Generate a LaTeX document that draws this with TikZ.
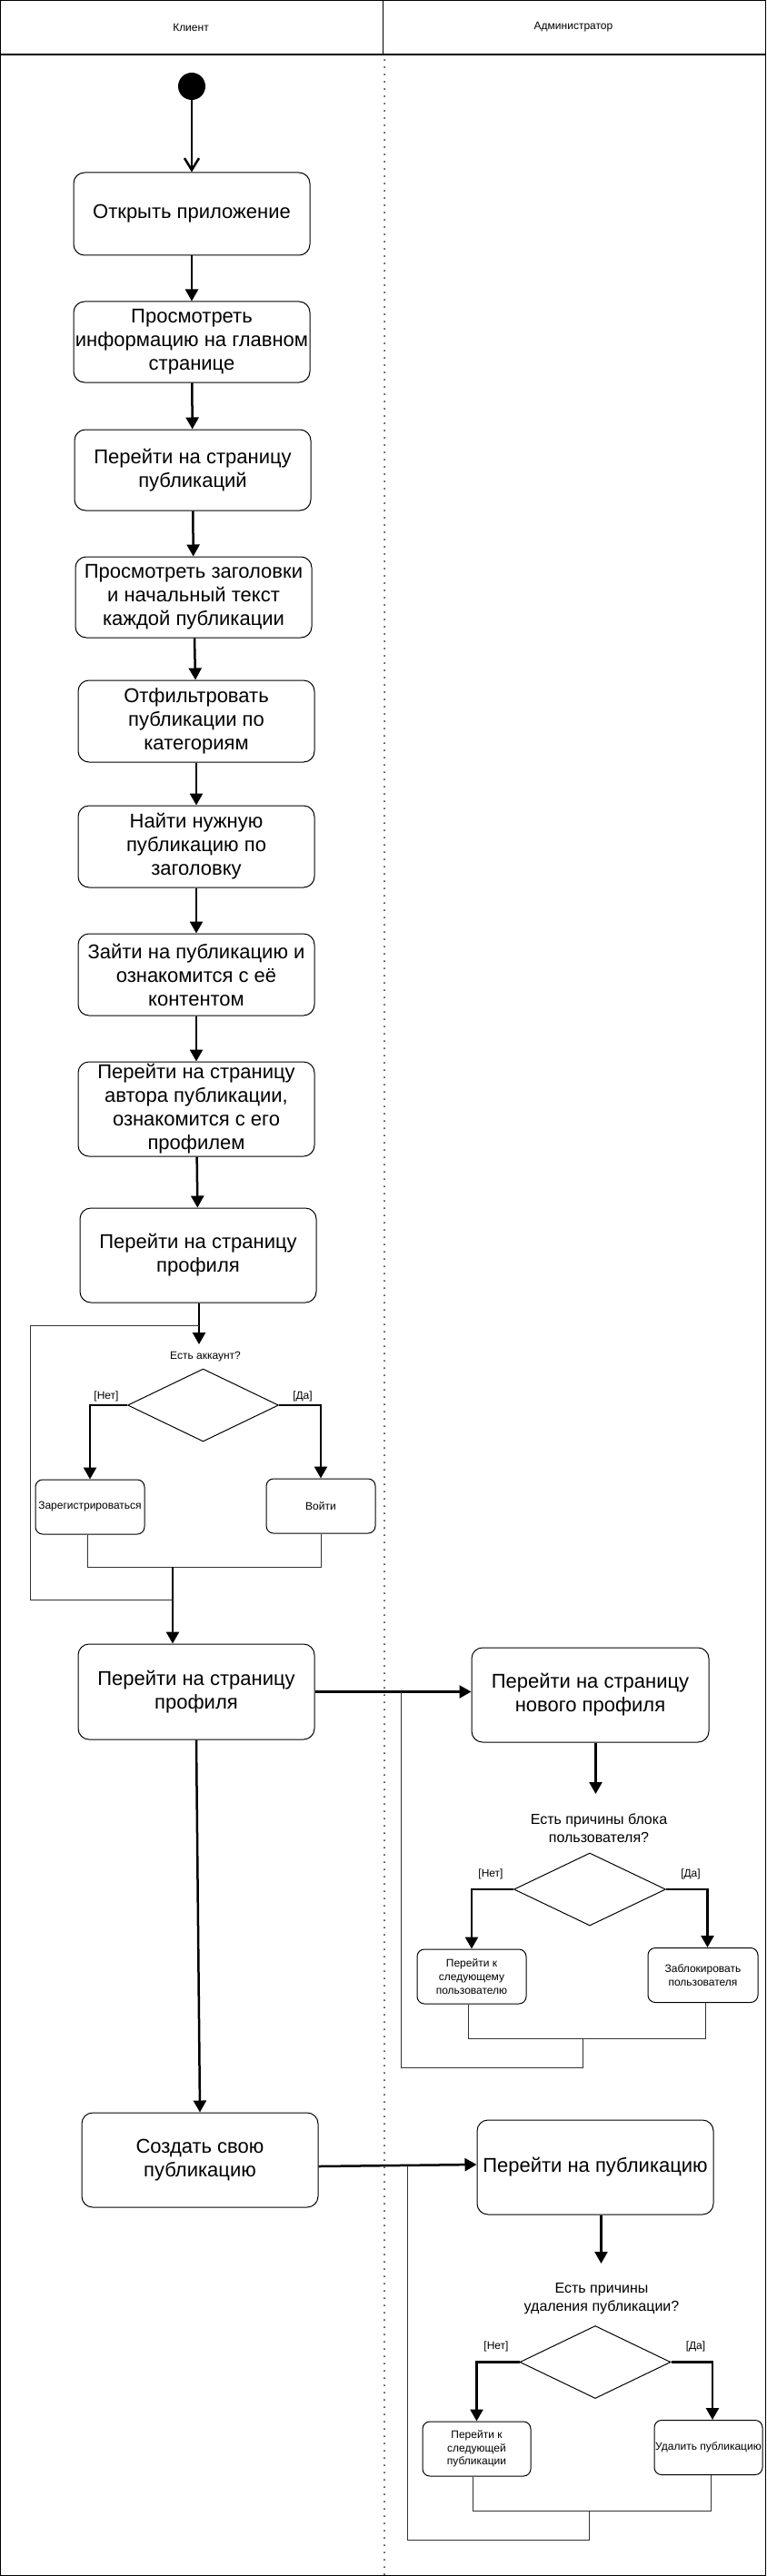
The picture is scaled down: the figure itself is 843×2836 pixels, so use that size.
\documentclass[tikz,border=0pt]{standalone}
\usepackage{fontspec}
\setmainfont{Liberation Sans}
\usetikzlibrary{arrows.meta,shapes.geometric,calc}
\begin{document}
\begin{tikzpicture}[x=1pt,y=-1pt,
  act/.style={draw,rounded corners=12pt,line width=1pt,align=center,font=\fontsize{22}{26}\selectfont,minimum width=260pt,inner sep=0pt},
  sact/.style={draw,rounded corners=8pt,line width=1pt,align=center,font=\fontsize{12}{14.6}\selectfont,minimum width=120pt,minimum height=60pt,inner sep=0pt},
  dec/.style={draw,diamond,line width=1pt,minimum width=166pt,minimum height=80pt,inner sep=0pt},
  flow/.style={line width=2.5pt,-{Triangle[length=13pt,width=14pt]}},
  lnk/.style={line width=1pt,draw=black!80},
  lbl/.style={font=\fontsize{12}{14.4}\selectfont,inner sep=0pt},
  qst/.style={font=\fontsize{16}{20}\selectfont,align=center,inner sep=0pt},
]
\useasboundingbox (0,0) rectangle (843,2836);
% frame and lanes
\draw[line width=1.2pt] (0.6,0.6) rectangle (842.4,2835.4);
\draw[line width=1.2pt] (0,60) -- (843,60);
\draw[line width=1.2pt] (421.5,0) -- (421.5,60);
\node[lbl] (hc) at (210,30) {Клиент};
\node[lbl] (ha) at (631,30) {Администратор};
\draw[line width=2pt,line cap=round,dash pattern=on 0pt off 8pt,black!85] (423,66) -- (423,2834);

% client lane
\node[circle,fill=black,minimum size=30pt,inner sep=0pt] (start) at (211,95) {};
\node[act,minimum height=91pt] (b1) at (211,235.5) {Открыть приложение};
\node[act,minimum height=89pt] (b2) at (211,376.5) {Просмотреть\\информацию на главном\\странице};
\node[act,minimum height=89pt] (b3) at (212,517.5) {Перейти на страницу\\публикаций};
\node[act,minimum height=89pt] (b4) at (213,657.5) {Просмотреть заголовки\\и начальный текст\\каждой публикации};
\node[act,minimum height=90pt] (b5) at (216,794) {Отфильтровать\\публикации по\\категориям};
\node[act,minimum height=90pt] (b6) at (216,932) {Найти нужную\\публикацию по\\заголовку};
\node[act,minimum height=90pt] (b7) at (216,1073) {Зайти на публикацию и\\ознакомится с её\\контентом};
\node[act,minimum height=104pt] (b8) at (216,1221) {Перейти на страницу\\автора публикации,\\ознакомится с его\\профилем};
\node[act,minimum height=104pt] (b9) at (218,1382) {Перейти на страницу\\профиля};

\node[lbl] (q1) at (226,1494) {Есть аккаунт?};
\node[dec] (d1) at (223.5,1547) {};
\node[lbl] (n1) at (117,1537) {[Нет]};
\node[lbl] (y1) at (333,1537) {[Да]};
\node[sact] (reg) at (99,1659) {Зарегистрироваться};
\node[sact] (login) at (353,1658) {Войти};

\node[act,minimum height=105pt] (b10) at (216,1862.5) {Перейти на страницу\\профиля};
\node[act,minimum height=104pt] (b12) at (220,2378) {Создать свою\\публикацию};

% admin lane
\node[act,minimum width=261pt,minimum height=104pt] (b11) at (649.5,1866) {Перейти на страницу\\нового профиля};
\node[qst] (q2) at (659,2013) {Есть причины блока\\пользователя?};
\node[dec,minimum width=167pt] (d2) at (649,2080) {};
\node[lbl] (n2) at (540,2063) {[Нет]};
\node[lbl] (y2) at (760,2063) {[Да]};
\node[sact] (p1) at (519,2176) {Перейти к\\следующему\\пользователю};
\node[sact,minimum width=121pt] (p2) at (773.5,2174.5) {Заблокировать\\пользователя};

\node[act,minimum height=104pt] (b13) at (655,2386) {Перейти на публикацию};
\node[qst] (q3) at (662,2531) {Есть причины\\удаления публикации?};
\node[dec] (d3) at (655,2600.5) {};
\node[lbl] (n3) at (546,2583) {[Нет]};
\node[lbl] (y3) at (765.5,2583) {[Да]};
\node[sact,minimum width=119pt] (r1) at (524.5,2696) {Перейти к\\следующей\\публикации};
\node[sact,minimum width=119pt] (r2) at (779.5,2694.5) {Удалить публикацию};

% helper coordinates
\coordinate (t1) at (219,1480);
\coordinate (l1a) at (219,1459);
\coordinate (l1b) at (33,1761);
\coordinate (m1) at (190,1725);
\coordinate (l2a) at (441,1862.5);
\coordinate (m2) at (641.5,2244);
\coordinate (t2) at (655.5,1975);
\coordinate (l3a) at (448.5,2384.5);
\coordinate (m3) at (648,2764);
\coordinate (t3) at (661.5,2492);

% connectors client
\draw[line width=2.5pt,-{Straight Barb[length=13pt,width=16pt,line width=2.5pt]}] (start) -- (b1);
\draw[flow] (b1) -- (b2);
\draw[flow] (b2) -- (b3);
\draw[flow] (b3) -- (b4);
\draw[flow] (b4) -- (b5);
\draw[flow] (b5) -- (b6);
\draw[flow] (b6) -- (b7);
\draw[flow] (b7) -- (b8);
\draw[flow] (b8) -- (b9);
\draw[flow] (t1 |- b9.south) -- (t1);
\draw[lnk] (l1a) -| (l1b) -- (l1b -| m1);
\draw[flow] (d1.west) -| (reg.north);
\draw[flow] (d1.east) -| (login.north);
\draw[lnk] ([xshift=-3pt]reg.south) |- (m1) -| (login.south);
\draw[flow] (m1) -- (m1 |- b10.north);
\draw[flow] (b10.south) -- (b12.north);

% connectors admin
\draw[flow] (b10.east) -- (b10.east -| b11.west);
\draw[lnk] (l2a) |- ($(m2)+(0,32)$) -- (m2);
\draw[flow] (t2 |- b11.south) -- (t2);
\draw[flow] (d2.west) -| (p1.north);
\draw[flow] (d2.east) -| ([xshift=5pt]p2.north);
\draw[lnk] ([xshift=-4pt]p1.south) |- (m2) -| ([xshift=2.5pt]p2.south);

\draw[flow] ([yshift=-7pt]b12.east) -- ([yshift=3pt]b13.west);
\draw[lnk] (l3a) |- ($(m3)+(0,32)$) -- (m3);
\draw[flow] (t3 |- b13.south) -- (t3);
\draw[flow] (d3.west) -| (r1.north);
\draw[flow] (d3.east) -| ([xshift=4.5pt]r2.north);
\draw[lnk] ([xshift=-4.5pt]r1.south) |- (m3) -| ([xshift=2.5pt]r2.south);
\end{tikzpicture}
\end{document}
